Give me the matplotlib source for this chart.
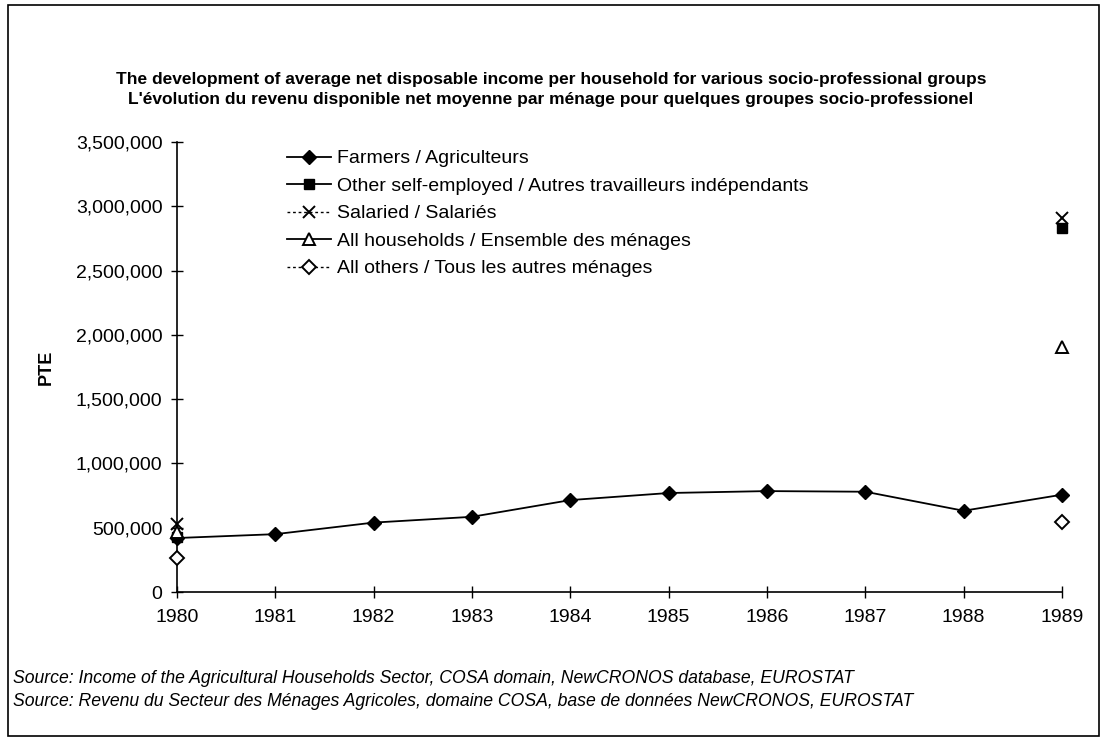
import numpy as np
import matplotlib.pyplot as plt
from matplotlib.patches import Rectangle
from matplotlib.ticker import FuncFormatter

plt.rcParams['font.family'] = ['Liberation Sans', 'DejaVu Sans']

years = [1980, 1981, 1982, 1983, 1984, 1985, 1986, 1987, 1988, 1989]
nan = np.nan

# PTE per household
farmers = [420000, 450000, 540000, 585000, 715000, 770000, 785000, 780000, 632000, 757000]
self_employed = [430000] + [nan] * 8 + [2830000]
salaried = [530000] + [nan] * 8 + [2910000]
all_households = [470000] + [nan] * 8 + [1905000]
all_others = [265000] + [nan] * 8 + [545000]

labels = ['Farmers / Agriculteurs',
          'Other self-employed / Autres travailleurs indépendants',
          'Salaried / Salariés',
          'All households / Ensemble des ménages',
          'All others / Tous les autres ménages']

title = ('The development of average net disposable income per household for various socio-professional groups\n'
         "L'évolution du revenu disponible net moyenne par ménage pour quelques groupes socio-professionel")
source = ['Source: Income of the Agricultural Households Sector, COSA domain, NewCRONOS database, EUROSTAT',
          'Source: Revenu du Secteur des Ménages Agricoles, domaine COSA, base de données NewCRONOS, EUROSTAT']

fig = plt.figure(figsize=(11.02, 7.38), dpi=100)
ax = fig.add_axes([0.1606, 0.1978, 0.8031, 0.6098])

lw = 1.3
ax.plot(years, farmers, color='black', lw=lw, marker='D', ms=7.5,
        mfc='black', mec='black', label=labels[0], clip_on=False, zorder=5)
ax.plot(years, self_employed, color='black', lw=lw, marker='s', ms=7.5,
        mfc='black', mec='black', label=labels[1], clip_on=False, zorder=4)
ax.plot(years, salaried, color='black', lw=1.0, ls=(0, (2, 2)), marker='x', ms=9,
        mew=1.4, mec='black', label=labels[2], clip_on=False, zorder=6)
ax.plot(years, all_households, color='black', lw=lw, marker='^', ms=8,
        mfc='white', mec='black', mew=1.4, label=labels[3], clip_on=False, zorder=6)
ax.plot(years, all_others, color='black', lw=1.0, ls=(0, (2, 2)), marker='D', ms=7,
        mfc='white', mec='black', mew=1.4, label=labels[4], clip_on=False, zorder=6)

ax.set_xlim(1980, 1989)
ax.set_ylim(0, 3500000)
ax.set_xticks(years)
ax.set_yticks(np.arange(0, 3500001, 500000))
ax.yaxis.set_major_formatter(FuncFormatter(lambda v, p: f'{int(v):,}'))
ax.tick_params(direction='inout', length=9, width=1, labelsize=14, pad=6)
ax.tick_params(axis='x', pad=8)
for s in ['top', 'right']:
    ax.spines[s].set_visible(False)
for s in ['left', 'bottom']:
    ax.spines[s].set_linewidth(1.2)
ax.set_ylabel('PTE', fontsize=13, fontweight='bold')
ax.yaxis.set_label_coords(-0.138, 0.5)

leg = ax.legend(loc='upper left', bbox_to_anchor=(0.115, 1.0), frameon=False,
                fontsize=14, handlelength=2.3, handletextpad=0.3, labelspacing=0.51,
                borderaxespad=0)

fig.text(0.5, 0.855, title, ha='center', va='bottom', fontsize=12.5,
         fontweight='bold', linespacing=1.4)
fig.text(0.012, 0.038, source[0] + '\n' + source[1], ha='left', va='bottom',
         fontsize=12.7, style='italic', linespacing=1.45)

fig.patches.append(Rectangle((0.007, 0.003), 0.99, 0.99, transform=fig.transFigure,
                             fill=False, edgecolor='black', lw=1.2))

fig.savefig('out.png', dpi=100)
